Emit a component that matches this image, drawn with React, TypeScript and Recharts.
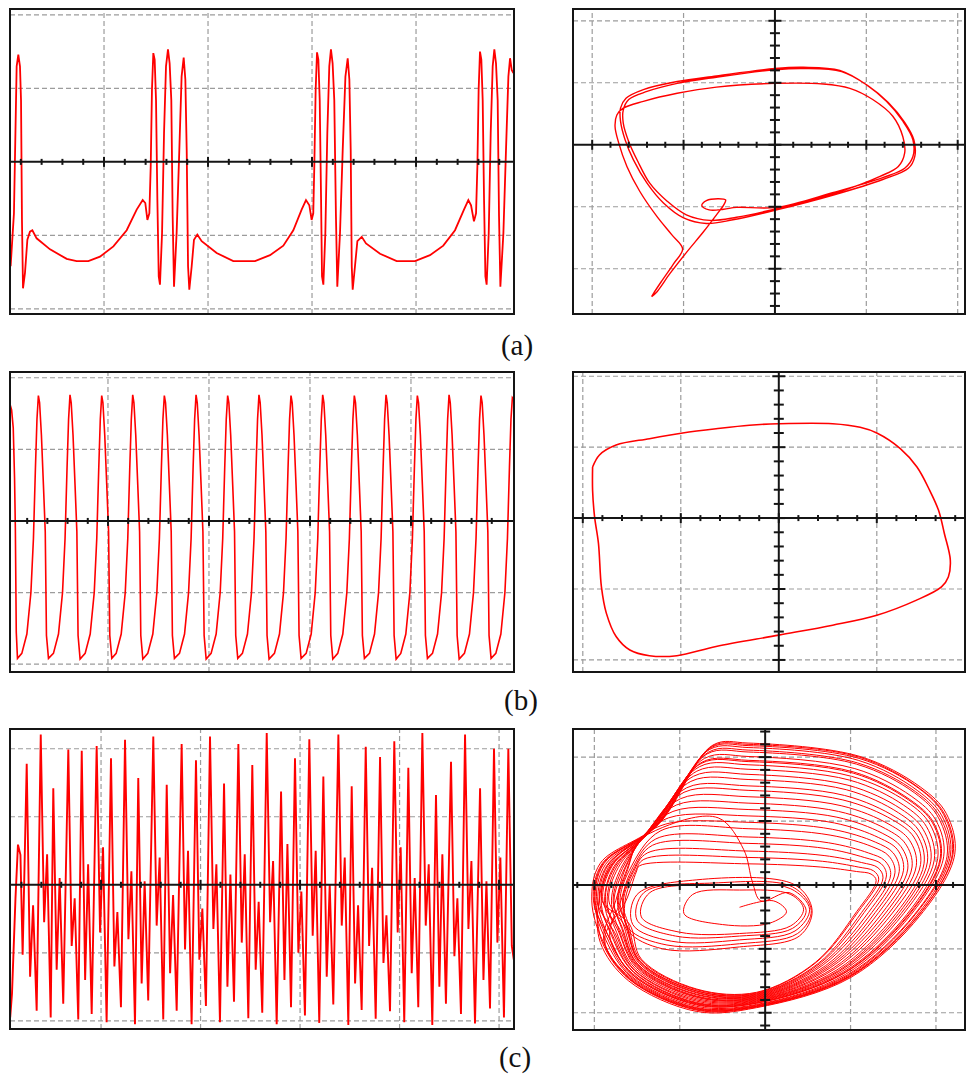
import React from 'react';
import { LineChart, Line, XAxis, YAxis, ReferenceLine, ReferenceDot } from 'recharts';

type Pt = [number, number];

// ---------- (a) time waveform (divisions) ----------
const waveA: Pt[] = [
  [0.102, -1.42], [0.122, -0.97], [0.134, -0.7], [0.16, 1.3], [0.176, 1.46], [0.192, 1.3], [0.202, 0.84], [0.211, -0.79], [0.221, -1.72],
  [0.24, -1.51], [0.263, -1.06], [0.288, -0.95], [0.311, -0.93], [0.352, -1.04], [0.481, -1.19], [0.641, -1.32], [0.737, -1.35],
  [0.849, -1.35], [0.961, -1.29], [1.09, -1.15], [1.218, -0.93], [1.314, -0.65], [1.372, -0.52], [1.397, -0.56], [1.417, -0.79], [1.436, -0.7],
  [1.449, -0.06], [1.461, 0.98], [1.474, 1.48], [1.487, 1.39], [1.5, 0.84], [1.513, -0.52], [1.526, -1.56], [1.538, -1.67],
  [1.558, -0.97], [1.577, 0.39], [1.596, 1.3], [1.615, 1.53], [1.631, 1.34], [1.647, 0.84], [1.66, -0.74], [1.673, -1.7],
  [1.698, -0.97], [1.724, 0.16], [1.746, 1.16], [1.766, 1.42], [1.782, 1.12], [1.795, 0.16], [1.808, -1.42], [1.82, -1.74],
  [1.843, -1.42], [1.865, -1.06], [1.897, -0.99], [1.939, -1.08], [2.083, -1.24], [2.243, -1.35], [2.452, -1.35], [2.596, -1.27],
  [2.724, -1.14], [2.82, -0.93], [2.9, -0.65], [2.942, -0.52], [2.974, -0.59], [2.996, -0.79], [3.012, -0.7],
  [3.022, -0.06], [3.035, 0.98], [3.048, 1.49], [3.061, 1.39], [3.074, 0.84], [3.087, -0.52], [3.096, -1.56], [3.109, -1.67],
  [3.128, -0.97], [3.147, 0.39], [3.166, 1.3], [3.182, 1.53], [3.198, 1.34], [3.214, 0.84], [3.23, -0.74], [3.243, -1.7],
  [3.269, -0.97], [3.295, 0.16], [3.321, 1.16], [3.343, 1.41], [3.359, 1.12], [3.372, 0.16], [3.382, -1.42], [3.391, -1.74],
  [3.413, -1.42], [3.436, -1.08], [3.478, -1.02], [3.519, -1.11], [3.654, -1.25], [3.814, -1.35], [3.99, -1.35], [4.134, -1.27],
  [4.262, -1.14], [4.375, -0.93], [4.461, -0.65], [4.503, -0.52], [4.529, -0.59], [4.557, -0.81], [4.577, -0.7],
  [4.59, -0.06], [4.602, 0.98], [4.615, 1.5], [4.628, 1.39], [4.641, 0.84], [4.654, -0.52], [4.667, -1.56], [4.679, -1.67],
  [4.699, -0.97], [4.718, 0.39], [4.737, 1.3], [4.753, 1.53], [4.769, 1.34], [4.785, 0.84], [4.798, -0.74], [4.811, -1.7],
  [4.84, -0.97], [4.865, 0.16], [4.888, 1.16], [4.904, 1.41], [4.92, 1.25], [4.936, 1.21],
];

// ---------- (a) phase portrait ----------
const orbitA: Pt[] = [
  [-1.35, -2.45], [-1.29, -2.37], [-1.15, -2.08], [-0.97, -1.74], [-0.78, -1.4], [-0.64, -1.13], [-0.56, -0.97], [-0.54, -0.89],
  [-0.62, -0.87], [-0.75, -0.9], [-0.8, -0.98], [-0.72, -1.05], [-0.56, -1.04], [-0.42, -1.01],
  [0.02, -1.01], [0.64, -0.77], [1.18, -0.53], [1.42, -0.38], [1.51, -0.19], [1.51, 0.08], [1.4, 0.38], [1.22, 0.7], [1.0, 0.97],
  [0.71, 1.2], [0.31, 1.25], [0.0, 1.23], [-0.64, 1.11], [-1.07, 1.02], [-1.44, 0.89], [-1.63, 0.75], [-1.69, 0.59], [-1.69, 0.38],
  [-1.64, 0.08], [-1.55, -0.24], [-1.4, -0.62], [-1.22, -0.94], [-1.0, -1.18], [-0.75, -1.27], [-0.46, -1.21],
  [0.02, -1.05], [0.64, -0.81], [1.18, -0.56], [1.46, -0.38], [1.53, -0.19], [1.52, 0.08], [1.42, 0.36], [1.24, 0.68], [1.02, 0.95],
  [0.73, 1.18], [0.31, 1.23], [0.0, 1.21], [-0.64, 1.09], [-1.07, 0.99], [-1.4, 0.86], [-1.6, 0.73], [-1.66, 0.56], [-1.66, 0.35],
  [-1.6, 0.05], [-1.5, -0.27], [-1.37, -0.62], [-1.18, -0.91], [-0.97, -1.13], [-0.71, -1.22], [-0.42, -1.17],
  [0.02, -1.03], [0.64, -0.79], [1.15, -0.51], [1.35, -0.35], [1.42, -0.13], [1.4, 0.13], [1.29, 0.46], [1.07, 0.73], [0.82, 0.91],
  [0.53, 0.98], [0.0, 0.99], [-0.64, 0.93], [-1.07, 0.83], [-1.44, 0.7], [-1.66, 0.59], [-1.73, 0.48], [-1.75, 0.3], [-1.71, 0.03],
  [-1.62, -0.35], [-1.48, -0.75], [-1.29, -1.16], [-1.13, -1.45], [-1.01, -1.68], [-1.11, -1.92], [-1.24, -2.2], [-1.33, -2.4], [-1.35, -2.45],
];

// ---------- (b) time waveform ----------
const waveB: Pt[] = [
  [0.032, 1.62], [0.046, 1.55], [0.062, 1.3], [0.075, 0.6], [0.083, -0.1], [0.092, -1.55], [0.104, -1.92],
  [0.147, -1.85], [0.197, -1.58], [0.237, -1.0], [0.262, -0.25], [0.282, 0.75], [0.297, 1.42], [0.311, 1.75],
  [0.323, 1.65], [0.341, 1.2], [0.361, 0.5], [0.379, -0.15], [0.391, -1.6], [0.411, -1.92],
  [0.46, -1.85], [0.51, -1.58], [0.55, -1.0], [0.575, -0.25], [0.595, 0.75], [0.61, 1.42], [0.624, 1.76],
  [0.636, 1.65], [0.654, 1.2], [0.674, 0.5], [0.692, -0.15], [0.704, -1.6], [0.724, -1.93],
  [0.774, -1.85], [0.824, -1.58], [0.864, -1.0], [0.889, -0.25], [0.909, 0.75], [0.924, 1.42], [0.938, 1.75],
  [0.95, 1.65], [0.968, 1.2], [0.988, 0.5], [1.006, -0.15], [1.018, -1.6], [1.038, -1.92],
  [1.081, -1.85], [1.131, -1.58], [1.171, -1.0], [1.196, -0.25], [1.216, 0.75], [1.231, 1.42], [1.245, 1.76],
  [1.257, 1.65], [1.275, 1.2], [1.295, 0.5], [1.313, -0.15], [1.325, -1.6], [1.345, -1.93],
  [1.394, -1.85], [1.444, -1.58], [1.484, -1.0], [1.509, -0.25], [1.529, 0.75], [1.544, 1.42], [1.558, 1.75],
  [1.57, 1.65], [1.588, 1.2], [1.608, 0.5], [1.626, -0.15], [1.638, -1.6], [1.658, -1.92],
  [1.708, -1.85], [1.758, -1.58], [1.798, -1.0], [1.823, -0.25], [1.843, 0.75], [1.858, 1.42], [1.872, 1.76],
  [1.884, 1.65], [1.902, 1.2], [1.922, 0.5], [1.94, -0.15], [1.952, -1.6], [1.972, -1.93],
  [2.021, -1.85], [2.071, -1.58], [2.111, -1.0], [2.136, -0.25], [2.156, 0.75], [2.171, 1.42], [2.185, 1.75],
  [2.197, 1.65], [2.215, 1.2], [2.235, 0.5], [2.253, -0.15], [2.265, -1.6], [2.285, -1.92],
  [2.331, -1.85], [2.381, -1.58], [2.421, -1.0], [2.446, -0.25], [2.466, 0.75], [2.481, 1.42], [2.495, 1.76],
  [2.507, 1.65], [2.525, 1.2], [2.545, 0.5], [2.563, -0.15], [2.575, -1.6], [2.595, -1.93],
  [2.648, -1.85], [2.698, -1.58], [2.738, -1.0], [2.763, -0.25], [2.783, 0.75], [2.798, 1.42], [2.812, 1.75],
  [2.824, 1.65], [2.842, 1.2], [2.862, 0.5], [2.88, -0.15], [2.892, -1.6], [2.912, -1.92],
  [2.962, -1.85], [3.012, -1.58], [3.052, -1.0], [3.077, -0.25], [3.097, 0.75], [3.112, 1.42], [3.126, 1.76],
  [3.138, 1.65], [3.156, 1.2], [3.176, 0.5], [3.194, -0.15], [3.206, -1.6], [3.226, -1.93],
  [3.275, -1.85], [3.325, -1.58], [3.365, -1.0], [3.39, -0.25], [3.41, 0.75], [3.425, 1.42], [3.439, 1.75],
  [3.451, 1.65], [3.469, 1.2], [3.489, 0.5], [3.507, -0.15], [3.519, -1.6], [3.539, -1.92],
  [3.589, -1.85], [3.639, -1.58], [3.679, -1.0], [3.704, -0.25], [3.724, 0.75], [3.739, 1.42], [3.753, 1.76],
  [3.765, 1.65], [3.783, 1.2], [3.803, 0.5], [3.821, -0.15], [3.833, -1.6], [3.853, -1.93],
  [3.899, -1.85], [3.949, -1.58], [3.989, -1.0], [4.014, -0.25], [4.034, 0.75], [4.049, 1.42], [4.063, 1.75],
  [4.075, 1.65], [4.093, 1.2], [4.113, 0.5], [4.131, -0.15], [4.143, -1.6], [4.163, -1.92],
  [4.213, -1.85], [4.263, -1.58], [4.303, -1.0], [4.328, -0.25], [4.348, 0.75], [4.363, 1.42], [4.377, 1.76],
  [4.389, 1.65], [4.407, 1.2], [4.427, 0.5], [4.445, -0.15], [4.457, -1.6], [4.477, -1.93],
  [4.529, -1.85], [4.579, -1.58], [4.619, -1.0], [4.644, -0.25], [4.664, 0.75], [4.679, 1.42], [4.693, 1.75],
  [4.705, 1.65], [4.723, 1.2], [4.743, 0.5], [4.761, -0.15], [4.773, -1.6], [4.793, -1.92],
  [4.84, -1.85], [4.89, -1.58], [4.93, -1.0], [4.955, -0.25], [4.975, 0.75], [4.99, 1.42], [5.004, 1.72], [5.015, 1.7],
];

// ---------- (b) phase portrait ----------
const orbitB: Pt[] = [
  [-1.9, 0.72], [-1.83, 0.89], [-1.66, 1.03], [-1.32, 1.12], [-0.98, 1.2], [-0.64, 1.26], [-0.3, 1.31], [0.0, 1.33],
  [0.55, 1.33], [0.83, 1.28], [1.0, 1.2], [1.24, 0.98], [1.41, 0.72], [1.54, 0.39], [1.63, 0.11], [1.69, -0.22],
  [1.75, -0.59], [1.73, -0.83], [1.66, -0.97], [1.4, -1.16], [1.0, -1.37], [0.55, -1.51], [0.0, -1.65], [-0.64, -1.81],
  [-1.04, -1.94], [-1.32, -1.94], [-1.52, -1.86], [-1.66, -1.67], [-1.76, -1.34], [-1.81, -0.97], [-1.84, -0.36],
  [-1.88, 0.02], [-1.9, 0.39], [-1.9, 0.72],
];

// ---------- (c) time waveform ----------
const waveC: Pt[] = [
  [0.087, -1.95], [0.105, -1.6], [0.14, -0.2], [0.165, 0.59], [0.19, 0.44], [0.212, -1.03],
  [0.253, 1.78], [0.287, -1.35], [0.317, -0.3], [0.353, -1.85],
  [0.394, 2.21], [0.428, -0.55], [0.458, 0.45], [0.494, -1.95],
  [0.52, 1.42], [0.554, -1.25], [0.584, 0.1], [0.62, -1.75],
  [0.671, 1.99], [0.705, -0.9], [0.735, -0.2], [0.771, -1.98],
  [0.806, 1.97], [0.84, -1.4], [0.87, 0.3], [0.906, -1.9],
  [0.956, 2.04], [0.99, -0.7], [1.02, 0.55], [1.056, -2.02],
  [1.1, 1.86], [1.134, -1.2], [1.164, -0.4], [1.2, -1.8],
  [1.241, 2.13], [1.275, -0.8], [1.305, 0.2], [1.341, -2.05],
  [1.374, 1.57], [1.408, -1.45], [1.438, 0.05], [1.474, -1.7],
  [1.525, 2.18], [1.559, -0.6], [1.589, 0.4], [1.625, -1.98],
  [1.66, 1.47], [1.694, -1.3], [1.724, -0.15], [1.76, -1.85],
  [1.81, 2.07], [1.844, -0.95], [1.874, 0.5], [1.91, -2.05],
  [1.954, 1.83], [1.988, -1.1], [2.018, -0.35], [2.054, -1.78],
  [2.095, 2.18], [2.129, -0.65], [2.159, 0.3], [2.195, -2.02],
  [2.236, 1.49], [2.27, -1.5], [2.3, 0.15], [2.336, -1.72],
  [2.38, 2.07], [2.414, -0.85], [2.444, 0.45], [2.48, -1.96],
  [2.52, 1.76], [2.554, -1.25], [2.584, -0.25], [2.62, -1.88],
  [2.665, 2.23], [2.699, -0.55], [2.729, 0.35], [2.765, -2.05],
  [2.809, 1.37], [2.843, -1.4], [2.873, 0.6], [2.909, -1.8],
  [2.949, 1.86], [2.983, -1.0], [3.013, -0.1], [3.049, -1.92],
  [3.093, 2.14], [3.127, -0.75], [3.157, 0.5], [3.193, -2.03],
  [3.234, 1.59], [3.268, -1.35], [3.298, 0.0], [3.334, -1.76],
  [3.385, 2.21], [3.419, -0.6], [3.449, 0.4], [3.485, -2.06],
  [3.519, 1.45], [3.553, -1.45], [3.583, -0.3], [3.619, -1.84],
  [3.66, 2.03], [3.694, -0.9], [3.724, 0.25], [3.76, -1.97],
  [3.804, 1.88], [3.838, -1.15], [3.868, -0.45], [3.904, -1.86],
  [3.947, 2.11], [3.981, -0.7], [4.011, 0.55], [4.047, -2.02],
  [4.088, 1.72], [4.122, -1.3], [4.152, 0.1], [4.188, -1.8],
  [4.229, 2.23], [4.263, -0.6], [4.293, 0.3], [4.329, -2.06],
  [4.366, 1.32], [4.4, -1.5], [4.43, 0.45], [4.466, -1.75],
  [4.517, 1.81], [4.551, -1.05], [4.581, -0.2], [4.617, -1.9],
  [4.658, 2.21], [4.692, -0.65], [4.722, 0.35], [4.758, -2.04],
  [4.809, 1.42], [4.843, -1.4], [4.873, 0.05], [4.909, -1.82],
  [4.949, 2.0], [4.983, -0.85], [5.013, 0.4], [5.049, -1.95],
  [5.093, 2.0], [5.128, -0.9], [5.148, -1.1],
];

// ---------- (c) phase portrait ----------
const orbitC: Pt[] = [
  // inner spiral
  [-0.3, -0.35], [0.1, -0.25], [0.25, -0.42], [0.05, -0.6], [-0.5, -0.62], [-0.95, -0.45], [-0.85, -0.15], [-0.3, -0.08],
  [0.3, -0.15], [0.45, -0.38], [0.3, -0.64], [-0.3, -0.76], [-1.0, -0.74], [-1.45, -0.5], [-1.35, -0.12], [-0.5, 0.0],
  [0.3, -0.06], [0.52, -0.38], [0.35, -0.72], [-0.3, -0.86], [-1.1, -0.88], [-1.55, -0.62], [-1.5, -0.15], [-0.8, 0.08],
  [0.35, 0.0], [0.55, -0.4], [0.4, -0.8], [-0.3, -0.97], [-1.2, -1.0], [-1.6, -0.72],
  // growing loops
  [-1.64, -0.25], [-1.52, 0.21], [-1.42, 0.4], [-0.2, 0.43], [0.67, 0.37], [1.09, 0.28], [1.27, 0.22], [1.33, 0.09], [1.09, -0.42], [0.6, -1.21], [-0.1, -1.69], [-0.8, -1.64], [-1.46, -1.17], [-1.6, -0.62],
  [-1.67, -0.25], [-1.55, 0.22], [-1.32, 0.62], [-0.2, 0.65], [0.71, 0.57], [1.16, 0.43], [1.36, 0.33], [1.42, 0.14], [1.16, -0.43], [0.64, -1.23], [-0.1, -1.71], [-0.8, -1.66], [-1.47, -1.19], [-1.62, -0.64],
  [-1.7, -0.25], [-1.59, 0.23], [-1.22, 0.85], [-0.2, 0.88], [0.76, 0.78], [1.25, 0.6], [1.45, 0.45], [1.52, 0.19], [1.25, -0.43], [0.68, -1.25], [-0.1, -1.73], [-0.8, -1.69], [-1.48, -1.22], [-1.65, -0.66],
  [-1.73, -0.25], [-1.62, 0.24], [-1.47, 0.7], [-1.13, 1.05], [-0.2, 1.08], [0.81, 0.97], [1.33, 0.74], [1.55, 0.55], [1.62, 0.23], [1.33, -0.43], [0.73, -1.27], [-0.1, -1.75], [-0.8, -1.72], [-1.49, -1.25], [-1.68, -0.68],
  [-1.77, -0.25], [-1.65, 0.25], [-1.44, 0.73], [-1.04, 1.25], [-0.2, 1.28], [0.86, 1.15], [1.41, 0.88], [1.64, 0.65], [1.72, 0.28], [1.41, -0.44], [0.77, -1.29], [-0.1, -1.77], [-0.8, -1.75], [-1.5, -1.28], [-1.71, -0.71],
  [-1.8, -0.25], [-1.69, 0.26], [-1.42, 0.76], [-0.95, 1.45], [-0.2, 1.48], [0.91, 1.33], [1.49, 1.02], [1.74, 0.75], [1.82, 0.32], [1.49, -0.44], [0.82, -1.31], [-0.1, -1.79], [-0.8, -1.78], [-1.52, -1.31], [-1.74, -0.74],
  [-1.85, -0.25], [-1.74, 0.28], [-1.39, 0.79], [-0.87, 1.62], [-0.2, 1.65], [0.95, 1.49], [1.56, 1.13], [1.81, 0.83], [1.9, 0.36], [1.56, -0.45], [0.86, -1.34], [-0.1, -1.81], [-0.8, -1.82], [-1.53, -1.34], [-1.77, -0.77],
  [-1.88, -0.25], [-1.77, 0.29], [-1.36, 0.82], [-0.8, 1.78], [-0.2, 1.81], [0.99, 1.64], [1.62, 1.25], [1.89, 0.91], [1.98, 0.39], [1.62, -0.45], [0.89, -1.36], [-0.1, -1.83], [-0.8, -1.85], [-1.54, -1.37], [-1.8, -0.79],
  [-1.92, -0.25], [-1.81, 0.3], [-1.33, 0.85], [-0.74, 1.92], [-0.2, 1.95], [1.03, 1.77], [1.69, 1.34], [1.97, 0.98], [2.06, 0.42], [1.69, -0.46], [0.93, -1.38], [-0.1, -1.85], [-0.8, -1.88], [-1.56, -1.4], [-1.83, -0.82],
  [-1.96, -0.25], [-1.85, 0.31], [-1.3, 0.89], [-0.68, 2.05], [-0.2, 2.08], [1.07, 1.89], [1.75, 1.44], [2.03, 1.05], [2.13, 0.45], [1.75, -0.46], [0.96, -1.41], [-0.1, -1.88], [-0.8, -1.92], [-1.57, -1.44], [-1.87, -0.85],
  [-2.0, -0.25], [-1.9, 0.33], [-1.27, 0.92], [-0.63, 2.15], [-0.2, 2.18], [1.1, 1.98], [1.8, 1.51], [2.09, 1.1], [2.19, 0.47], [1.8, -0.47], [0.99, -1.43], [-0.1, -1.9], [-0.8, -1.95], [-1.59, -1.47], [-1.9, -0.88],
  [-2.03, -0.25], [-1.93, 0.34], [-1.25, 0.95], [-0.61, 2.19], [-0.2, 2.22], [1.11, 2.01], [1.82, 1.53], [2.12, 1.12], [2.22, 0.48], [1.82, -0.47], [1.0, -1.45], [-0.1, -1.92], [-0.8, -1.98], [-1.6, -1.5], [-1.93, -0.9],
  // reinjection through the fold
  [-1.95, -0.3], [-1.8, 0.35], [-1.2, 0.9], [-0.55, 1.05], [-0.25, 0.55], [-0.15, 0.05], [-0.05, -0.25],
  [0.28, -0.12], [0.48, -0.4], [0.32, -0.68], [-0.3, -0.8], [-1.05, -0.8], [-1.5, -0.55], [-1.42, -0.12], [-0.6, 0.03],
  [0.32, -0.03], [0.54, -0.4], [0.38, -0.76], [-0.3, -0.92], [-1.15, -0.94], [-1.6, -0.68],
  // second series of loops
  [-1.66, -0.25], [-1.54, 0.21], [-1.38, 0.5], [-0.2, 0.53], [0.69, 0.46], [1.13, 0.35], [1.32, 0.27], [1.38, 0.11], [1.13, -0.43], [0.62, -1.23], [-0.1, -1.7], [-0.8, -1.66], [-1.47, -1.19], [-1.62, -0.63],
  [-1.72, -0.25], [-1.61, 0.24], [-1.48, 0.69], [-1.17, 0.95], [-0.2, 0.98], [0.79, 0.87], [1.29, 0.67], [1.5, 0.5], [1.57, 0.21], [1.29, -0.43], [0.71, -1.26], [-0.1, -1.74], [-0.8, -1.71], [-1.49, -1.24], [-1.67, -0.68],
  [-1.78, -0.25], [-1.67, 0.26], [-1.43, 0.74], [-0.99, 1.35], [-0.2, 1.38], [0.89, 1.24], [1.45, 0.95], [1.69, 0.7], [1.77, 0.3], [1.45, -0.44], [0.8, -1.3], [-0.1, -1.78], [-0.8, -1.76], [-1.51, -1.29], [-1.72, -0.72],
  [-1.87, -0.25], [-1.76, 0.28], [-1.37, 0.81], [-0.84, 1.7], [-0.2, 1.73], [0.97, 1.56], [1.59, 1.19], [1.85, 0.87], [1.94, 0.37], [1.59, -0.45], [0.87, -1.35], [-0.1, -1.82], [-0.8, -1.84], [-1.54, -1.36], [-1.79, -0.78],
  [-1.94, -0.25], [-1.84, 0.31], [-1.32, 0.87], [-0.71, 1.98], [-0.2, 2.01], [1.05, 1.82], [1.71, 1.39], [2.0, 1.01], [2.09, 0.44], [1.71, -0.46], [0.94, -1.4], [-0.1, -1.87], [-0.8, -1.9], [-1.57, -1.42], [-1.85, -0.83],
  [-1.99, -0.25], [-1.89, 0.33], [-1.28, 0.92], [-0.65, 2.12], [-0.2, 2.15], [1.09, 1.95], [1.78, 1.48], [2.07, 1.08], [2.17, 0.47], [1.78, -0.47], [0.98, -1.43], [-0.1, -1.9], [-0.8, -1.94], [-1.58, -1.47], [-1.89, -0.87],
  [-1.75, -0.25], [-1.64, 0.25], [-1.45, 0.71], [-1.08, 1.15], [-0.2, 1.18], [0.84, 1.06], [1.37, 0.81], [1.59, 0.6], [1.67, 0.25], [1.37, -0.44], [0.75, -1.28], [-0.1, -1.76], [-0.8, -1.74], [-1.5, -1.26], [-1.7, -0.7],
  [-1.9, -0.25], [-1.79, 0.3], [-1.35, 0.84], [-0.77, 1.85], [-0.2, 1.88], [1.01, 1.7], [1.66, 1.3], [1.93, 0.95], [2.02, 0.41], [1.66, -0.46], [0.91, -1.37], [-0.1, -1.84], [-0.8, -1.86], [-1.55, -1.39], [-1.82, -0.8],
  [-1.69, -0.25], [-1.57, 0.22], [-1.28, 0.72], [-0.2, 0.75], [0.74, 0.66], [1.21, 0.5], [1.4, 0.38], [1.47, 0.16], [1.21, -0.43], [0.66, -1.24], [-0.1, -1.72], [-0.8, -1.68], [-1.47, -1.21], [-1.64, -0.65],
  [-1.83, -0.25], [-1.72, 0.27], [-1.4, 0.78], [-0.92, 1.52], [-0.2, 1.55], [0.93, 1.4], [1.53, 1.06], [1.78, 0.78], [1.86, 0.33], [1.53, -0.45], [0.84, -1.33], [-0.1, -1.8], [-0.8, -1.8], [-1.53, -1.33], [-1.76, -0.75],
  [-1.97, -0.25], [-1.87, 0.32], [-1.29, 0.9], [-0.66, 2.08], [-0.2, 2.11], [1.08, 1.91], [1.76, 1.46], [2.05, 1.06], [2.15, 0.46], [1.76, -0.46], [0.97, -1.42], [-0.1, -1.89], [-0.8, -1.93], [-1.58, -1.45], [-1.88, -0.86],
  [-1.63, -0.25], [-1.51, 0.2], [-1.47, 0.3], [-0.2, 0.33], [0.65, 0.28], [1.07, 0.21], [1.24, 0.17], [1.3, 0.07], [1.07, -0.42], [0.59, -1.21], [-0.1, -1.68], [-0.8, -1.63], [-1.45, -1.16], [-1.59, -0.61],
  [-1.91, -0.25], [-1.8, 0.3], [-1.34, 0.85], [-0.75, 1.9], [-0.2, 1.93], [1.03, 1.75], [1.68, 1.33], [1.96, 0.97], [2.05, 0.42], [1.68, -0.46], [0.92, -1.38], [-0.1, -1.85], [-0.8, -1.87], [-1.56, -1.4], [-1.83, -0.81],
  [-2.01, -0.25], [-1.91, 0.33], [-1.27, 0.93], [-0.62, 2.17], [-0.2, 2.2], [1.1, 2.0], [1.8, 1.52], [2.1, 1.11], [2.2, 0.48], [1.8, -0.47], [0.99, -1.44], [-0.1, -1.91], [-0.8, -1.96], [-1.59, -1.48], [-1.91, -0.89],
  [-1.98, -0.25],
];

const panelLabels = ['(a)', '(b)', '(c)'];

const RED = '#ff0000';
const GRID = '#9c9c9c';
const AXIS = '#151515';

// Centripetal Catmull-Rom interpolation (a d3-style curve factory) for the X-Y traces.
function centripetal(context: any) {
  let pts: [number, number][] = [];
  return {
    areaStart() {},
    areaEnd() {},
    lineStart() {
      pts = [];
    },
    point(x: number, y: number) {
      pts.push([+x, +y]);
    },
    lineEnd() {
      const n = pts.length;
      if (!n) return;
      context.moveTo(pts[0][0], pts[0][1]);
      const e = 1e-6;
      for (let i = 0; i < n - 1; i++) {
        const p0 = pts[i > 0 ? i - 1 : i];
        const p1 = pts[i];
        const p2 = pts[i + 1];
        const p3 = pts[i + 2 < n ? i + 2 : i + 1];
        const l01 = Math.sqrt(Math.hypot(p1[0] - p0[0], p1[1] - p0[1]));
        const l12 = Math.sqrt(Math.hypot(p2[0] - p1[0], p2[1] - p1[1]));
        const l23 = Math.sqrt(Math.hypot(p3[0] - p2[0], p3[1] - p2[1]));
        let c1x = p1[0], c1y = p1[1], c2x = p2[0], c2y = p2[1];
        if (l01 > e && l12 > e) {
          const a = 2 * l01 * l01 + 3 * l01 * l12 + l12 * l12;
          const m = 3 * l01 * (l01 + l12);
          c1x = (p1[0] * a - p0[0] * l12 * l12 + p2[0] * l01 * l01) / m;
          c1y = (p1[1] * a - p0[1] * l12 * l12 + p2[1] * l01 * l01) / m;
        }
        if (l23 > e && l12 > e) {
          const b = 2 * l23 * l23 + 3 * l23 * l12 + l12 * l12;
          const m = 3 * l23 * (l23 + l12);
          c2x = (p2[0] * b + p1[0] * l23 * l23 - p3[0] * l12 * l12) / m;
          c2y = (p2[1] * b + p1[1] * l23 * l23 - p3[1] * l12 * l12) / m;
        }
        context.bezierCurveTo(c1x, c1y, c2x, c2y, p2[0], p2[1]);
      }
    },
  };
}

function steps(lo: number, hi: number, step: number): number[] {
  const out: number[] = [];
  const s = Math.ceil(lo / step - 1e-9);
  const e = Math.floor(hi / step + 1e-9);
  for (let i = s; i <= e; i++) out.push(Number((i * step).toFixed(4)));
  return out;
}

interface Spec {
  left: number; top: number; width: number; height: number;
  xDomain: [number, number]; yDomain: [number, number];
  points: Pt[]; curve: any; strokeWidth: number; phase: boolean;
}

function Panel({ spec }: { spec: Spec }) {
  const { left, top, width, height, xDomain, yDomain, points, curve, strokeWidth, phase } = spec;
  const rows = points.map(([x, y]) => ({ x, y }));
  const inside = (v: number, d: [number, number]) => v > d[0] + 0.02 && v < d[1] - 0.02;
  const major = (v: number) => Math.abs(v - Math.round(v)) < 1e-6;
  const gridX = steps(xDomain[0], xDomain[1], 1).filter((v) => inside(v, xDomain) && !(phase && v === 0));
  const gridY = steps(yDomain[0], yDomain[1], 1).filter((v) => inside(v, yDomain) && v !== 0);
  const xTicks = steps(xDomain[0], xDomain[1], 0.2).filter((v) => inside(v, xDomain));
  const yTicks = phase ? steps(yDomain[0], yDomain[1], 0.2).filter((v) => inside(v, yDomain)) : [];
  return (
    <div style={{ position: 'absolute', left, top, width, height }}>
      <LineChart width={width} height={height} data={rows} margin={{ top: 0, right: 0, bottom: 0, left: 0 }}>
        <XAxis type="number" dataKey="x" domain={xDomain} hide allowDataOverflow />
        <YAxis type="number" domain={yDomain} hide allowDataOverflow />
        {gridX.map((v, i) => (
          <ReferenceLine key={'gx' + i} x={v} stroke={GRID} strokeDasharray="5 3" strokeWidth={1.2} />
        ))}
        {gridY.map((v, i) => (
          <ReferenceLine key={'gy' + i} y={v} stroke={GRID} strokeDasharray="5 3" strokeWidth={1.2} />
        ))}
        <Line type={curve} dataKey="y" stroke={RED} strokeWidth={strokeWidth} dot={false} activeDot={false} isAnimationActive={false} />
        <ReferenceLine y={0} stroke={AXIS} strokeWidth={2} />
        {phase && <ReferenceLine x={0} stroke={AXIS} strokeWidth={2} />}
        {xTicks.map((v, i) => (
          <ReferenceDot
            key={'tx' + i}
            x={v}
            y={0}
            r={1}
            shape={(p: any) => {
              const h = major(v) ? 5 : 3;
              return <line x1={p.cx} x2={p.cx} y1={p.cy - h} y2={p.cy + h} stroke={AXIS} strokeWidth={2} />;
            }}
          />
        ))}
        {yTicks.map((v, i) => (
          <ReferenceDot
            key={'ty' + i}
            x={0}
            y={v}
            r={1}
            shape={(p: any) => {
              const h = major(v) ? 6.5 : 5;
              return <line x1={p.cx - h} x2={p.cx + h} y1={p.cy} y2={p.cy} stroke={AXIS} strokeWidth={2} />;
            }}
          />
        ))}
      </LineChart>
      <div
        style={{
          position: 'absolute', left: -1, top: -1, width: width + 2, height: height + 2,
          border: '2px solid ' + AXIS, boxSizing: 'border-box', pointerEvents: 'none',
        }}
      />
    </div>
  );
}

const specs: Spec[] = [
  { left: 10, top: 9, width: 504, height: 305, xDomain: [0.096, 4.942], yDomain: [-2.07, 2.08], points: waveA, curve: 'linear', strokeWidth: 1.8, phase: false },
  { left: 573, top: 9, width: 392, height: 305, xDomain: [-2.21, 2.08], yDomain: [-2.73, 2.19], points: orbitA, curve: centripetal, strokeWidth: 1.4, phase: true },
  { left: 10, top: 372, width: 504, height: 300, xDomain: [0.03, 5.02], yDomain: [-2.11, 2.08], points: waveB, curve: 'linear', strokeWidth: 1.6, phase: false },
  { left: 573, top: 372, width: 392, height: 300, xDomain: [-2.1, 1.9], yDomain: [-2.17, 2.06], points: orbitB, curve: centripetal, strokeWidth: 1.6, phase: true },
  { left: 10, top: 729, width: 504, height: 300, xDomain: [0.085, 5.15], yDomain: [-2.12, 2.29], points: waveC, curve: 'linear', strokeWidth: 1.9, phase: false },
  { left: 573, top: 729, width: 392, height: 301, xDomain: [-2.25, 2.34], yDomain: [-2.27, 2.44], points: orbitC, curve: centripetal, strokeWidth: 1, phase: true },
];

const labelPos = [
  { x: 517, y: 355 },
  { x: 521, y: 710 },
  { x: 515, y: 1067 },
];

export default function App() {
  return (
    <div style={{ position: 'absolute', left: 0, top: 0, width: 967, height: 1077, background: '#ffffff', overflow: 'hidden' }}>
      {specs.map((s, i) => (
        <Panel key={i} spec={s} />
      ))}
      <svg width={967} height={1077} style={{ position: 'absolute', left: 0, top: 0, pointerEvents: 'none' }}>
        {panelLabels.map((t, i) => (
          <text
            key={t}
            x={labelPos[i].x}
            y={labelPos[i].y}
            textAnchor="middle"
            fontFamily="Liberation Serif, Times New Roman, serif"
            fontSize={29}
            fill="#111"
          >
            {t}
          </text>
        ))}
      </svg>
    </div>
  );
}
